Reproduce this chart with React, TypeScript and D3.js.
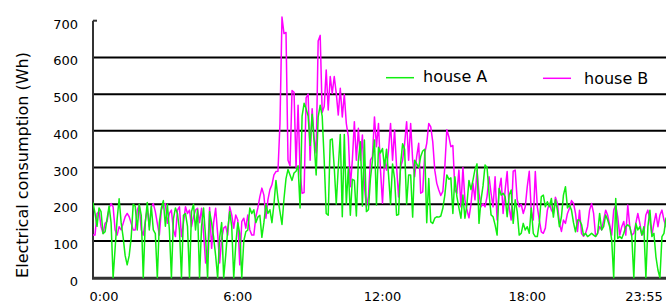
import React from 'react';
import * as d3 from 'd3';

const houseA: number[] = [
  205,175,140,190,180,120,125,160,195,150,
  0,80,160,215,150,110,60,35,60,110,
  200,195,130,200,170,0,150,205,130,195,
  130,120,0,150,190,210,140,200,130,0,
  160,190,175,130,0,170,175,140,0,180,
  200,130,185,0,140,190,110,0,180,150,
  110,60,0,110,150,0,60,130,180,140,
  0,90,150,120,0,100,125,130,190,175,
  185,150,165,170,110,150,200,175,185,150,
  200,265,215,180,145,215,270,295,280,265,
  285,290,305,190,440,475,460,440,360,445,
  370,280,438,470,440,320,175,170,375,378,
  300,200,300,390,166,390,200,300,170,268,
  265,168,320,370,195,375,180,185,270,320,
  375,198,355,340,352,300,350,280,200,310,
  270,170,172,310,365,350,200,280,280,165,
  320,310,300,330,345,350,150,270,152,148,
  162,166,165,168,189,225,280,268,272,175,
  275,221,190,162,225,162,200,265,240,266,
  295,310,148,212,250,307,300,230,171,166,
  144,116,243,225,230,221,166,225,239,148,
  212,180,116,121,148,130,139,121,190,121,
  112,112,150,221,225,193,207,193,216,165,
  212,184,139,166,225,248,190,198,184,150,
  125,157,157,145,115,121,112,116,121,116,
  112,121,175,130,139,171,157,139,103,0,
  216,107,112,107,121,139,144,139,112,0,
  148,130,139,116,139,0,139,184,112,121,
  57,21,0,112,121,162,165,170,
];

const houseB: number[] = [
  116,116,175,180,139,121,148,153,189,202,
  193,130,116,139,130,148,166,175,166,148,
  130,130,184,198,130,116,153,189,139,193,
  202,180,148,116,184,198,202,148,175,184,
  130,112,184,193,112,150,193,175,184,139,
  166,184,189,150,189,121,40,62,191,80,
  150,189,120,40,107,135,140,116,193,171,
  135,171,157,35,153,162,135,171,130,116,
  116,166,190,221,244,225,162,212,240,253,
  280,289,290,420,710,665,668,320,305,510,
  505,300,470,290,230,232,490,500,320,460,
  380,340,645,660,450,466,566,457,548,502,
  548,502,443,516,438,500,420,384,248,320,
  425,320,407,320,389,248,193,221,320,330,
  438,357,420,293,203,320,293,348,420,320,
  402,302,220,302,320,366,425,320,420,320,
  275,330,366,230,234,339,366,420,411,370,
  293,257,239,224,235,302,403,384,357,360,
  239,230,293,193,300,212,185,163,200,257,
  212,293,230,193,202,193,221,275,230,193,
  275,157,240,271,175,239,289,190,157,290,
  293,212,193,200,175,193,248,290,180,157,
  289,193,157,125,121,135,184,202,184,175,
  219,203,148,126,157,148,175,189,210,203,
  175,126,184,120,113,121,139,184,202,175,
  113,121,139,130,157,184,170,144,116,184,
  198,166,116,139,153,116,198,139,116,121,
  148,175,148,116,121,171,184,157,116,148,
  175,139,171,184,157,139,150,165,
];

const yTicks = [0, 100, 200, 300, 400, 500, 600, 700];
const xTickLabels = ['0:00', '6:00', '12:00', '18:00', '23:55'];
const xTickIndex = [0, 72, 144, 216, 287];
const seriesNames = ['house A', 'house B'];
const seriesColors = ['#11ee11', '#ff00ff'];
const yTitle = 'Electrical consumption (Wh)';

export default function App() {
  const W = 666;
  const H = 303;
  const left = 93;
  const right = 666;
  const x = d3.scaleLinear().domain([0, houseA.length - 1]).range([left, 670]);
  const y = d3.scaleLinear().domain([0, 700]).range([277.7, 20.7]);
  const line = d3
    .line<number>()
    .x((_, i) => x(i))
    .y((d) => y(d));
  const font = '"DejaVu Sans", Verdana, sans-serif';

  const legendItems = [
    { name: seriesNames[0], color: seriesColors[0], x1: 386, tx: 423, ly: 77.7, ty: 82 },
    { name: seriesNames[1], color: seriesColors[1], x1: 543, tx: 584, ly: 78.3, ty: 83.5 },
  ];

  return (
    <svg
      width={W}
      height={H}
      style={{ position: 'absolute', left: 0, top: 0, display: 'block', background: '#fff' }}
      fontFamily={font}
    >
      <defs>
        <clipPath id="plot">
          <rect x={left} y={0} width={right - left} height={y(0) + 1} />
        </clipPath>
      </defs>
      <rect x={0} y={0} width={W} height={H} fill="#fff" />
      {/* gridlines */}
      {yTicks.filter((t) => t > 0 && t < 700).map((t) => (
        <line key={t} x1={left} x2={right} y1={y(t)} y2={y(t)} stroke="#000" strokeWidth={2} />
      ))}
      {/* axes */}
      <line x1={left} x2={left} y1={y(700)} y2={y(0)} stroke="#333" strokeWidth={2} />
      <line x1={left} x2={left + 4} y1={y(700)} y2={y(700)} stroke="#333" strokeWidth={2} />
      <line x1={left - 1} x2={right} y1={y(0) + 0.5} y2={y(0) + 0.5} stroke="#333" strokeWidth={3} />
      {/* series */}
      <g clipPath="url(#plot)" fill="none" strokeLinejoin="round">
        <path d={line(houseB) || ''} stroke={seriesColors[1]} strokeWidth={1.5} />
        <path d={line(houseA) || ''} stroke={seriesColors[0]} strokeWidth={1.5} />
      </g>
      {/* y tick labels */}
      {yTicks.map((t) => (
        <text key={t} x={78} y={y(t) + 8} textAnchor="end" fontSize={13} fill="#000">
          {t}
        </text>
      ))}
      {/* x tick labels */}
      {xTickLabels.map((lab, k) => {
        const px = Math.min(Math.max(x(xTickIndex[k]), left + 11), W - 22);
        return (
          <text key={lab} x={px} y={301} textAnchor="middle" fontSize={13} fill="#000">
            {lab}
          </text>
        );
      })}
      {/* y title */}
      <text
        transform={`translate(28,165) rotate(-90)`}
        textAnchor="middle"
        fontSize={16}
        fill="#000"
      >
        {yTitle}
      </text>
      {/* legend */}
      {legendItems.map((it) => (
        <g key={it.name}>
          <line x1={it.x1} x2={it.x1 + 28} y1={it.ly} y2={it.ly} stroke={it.color} strokeWidth={1.5} />
          <text x={it.tx} y={it.ty} fontSize={16} fill="#000">
            {it.name}
          </text>
        </g>
      ))}
    </svg>
  );
}
